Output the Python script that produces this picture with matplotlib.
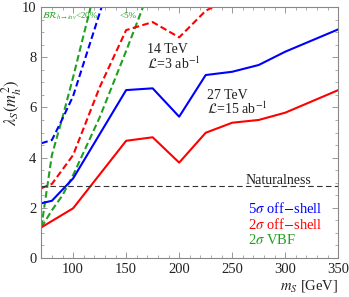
import numpy as np
import matplotlib
matplotlib.use("Agg")
import matplotlib.pyplot as plt

plt.rcParams['font.family'] = ['Liberation Serif', 'DejaVu Serif']
plt.rcParams['mathtext.fontset'] = 'stix'

# 27 TeV, 5 sigma off-shell (blue solid)
ms_blue27 = [70, 80, 100, 150, 175, 200, 225, 250, 275, 300, 350]
lam_blue27 = [2.18, 2.28, 3.17, 6.69, 6.76, 5.63, 7.29, 7.42, 7.69, 8.22, 9.11]

# 27 TeV, 2 sigma off-shell (red solid)
ms_red27 = [70, 100, 150, 175, 200, 225, 250, 275, 300, 350]
lam_red27 = [1.22, 1.98, 4.67, 4.81, 3.80, 4.99, 5.39, 5.50, 5.79, 6.69]

# 14 TeV, 5 sigma off-shell (blue dashed)
ms_blue14 = [70, 80, 90, 100, 125, 150]
lam_blue14 = [4.57, 4.70, 5.55, 6.45, 9.75, 13.0]

# 14 TeV, 2 sigma off-shell (red dashed)
ms_red14 = [70, 80, 100, 125, 150, 175, 200, 225, 250]
lam_red14 = [2.78, 2.95, 4.10, 6.80, 9.08, 9.40, 8.79, 9.85, 10.4]

# 2 sigma VBF, BR(h->inv) < 20% and < 5% (green dashed)
ms_vbf20 = [70, 80, 90, 100, 110, 125]
lam_vbf20 = [1.22, 4.10, 5.60, 7.20, 8.90, 11.4]
ms_vbf5 = [70, 80, 90, 100, 125, 150, 175]
lam_vbf5 = [1.22, 1.90, 2.50, 3.30, 5.60, 8.25, 11.0]

naturalness = 2.87

blue = '#0000ff'
red = '#ff0000'
green = '#1fa01f'
txt = '#222222'

fig = plt.figure(figsize=(3.49, 2.97), dpi=100)
ax = fig.add_axes([0.1183, 0.1313, 0.851, 0.8451])

dash = (0, (3.2, 1.6))
ax.plot(ms_vbf20, lam_vbf20, color=green, lw=1.5, linestyle=dash)
ax.plot(ms_vbf5, lam_vbf5, color=green, lw=1.5, linestyle=dash)
ax.plot(ms_red14, lam_red14, color=red, lw=1.5, linestyle=dash)
ax.plot(ms_blue14, lam_blue14, color=blue, lw=1.5, linestyle=dash)
ax.plot(ms_red27, lam_red27, color=red, lw=1.5)
ax.plot(ms_blue27, lam_blue27, color=blue, lw=1.5)
ax.axhline(naturalness, color='#333333', lw=0.8, linestyle=(0, (5, 3)))

ax.set_xlim(70, 350)
ax.set_ylim(0, 10)
ax.set_xticks([100, 150, 200, 250, 300, 350])
ax.set_yticks([0, 2, 4, 6, 8, 10])
ax.set_xticks(np.arange(70, 351, 10), minor=True)
ax.set_yticks(np.arange(0, 10.01, 0.5), minor=True)
ax.tick_params(which='both', direction='in', top=True, right=True,
               color='#888888', labelsize=10.5, labelcolor=txt)
ax.tick_params(which='major', length=4, width=0.6)
ax.tick_params(which='minor', length=2, width=0.5)
for s in ax.spines.values():
    s.set_color('#888888')
    s.set_linewidth(0.8)

ax.set_ylabel(r'$\lambda_S(m_h^2)$', fontsize=12, color=txt)
ax.yaxis.set_label_coords(-0.058, 0.62)
ax.text(1.0, -0.08, r'$m_S$ [GeV]', transform=ax.transAxes,
        ha='right', va='top', fontsize=10.5, color=txt)

ax.text(170, 8.15, '14 TeV', fontsize=10, color=txt)
ax.text(170, 7.55, r'$\mathcal{L}$=3 ab$^{-1}$', fontsize=10, color=txt)
ax.text(226, 6.35, '27 TeV', fontsize=10, color=txt)
ax.text(226, 5.72, r'$\mathcal{L}$=15 ab$^{-1}$', fontsize=10, color=txt)
ax.text(294, 2.95, 'Naturalness', fontsize=10, color=txt, ha='center')

ax.text(265, 1.8, r'5$\sigma$ off$-$shell', color=blue, fontsize=10.5)
ax.text(265, 1.17, r'2$\sigma$ off$-$shell', color=red, fontsize=10.5)
ax.text(265, 0.55, r'2$\sigma$ VBF', color=green, fontsize=10.5)

ax.text(71, 9.55, r'$\mathcal{BR}_{h\to inv}$<20%', color=green, fontsize=6.5)
ax.text(144, 9.55, '<5%', color=green, fontsize=6.5)

fig.savefig('out.png', dpi=100)
